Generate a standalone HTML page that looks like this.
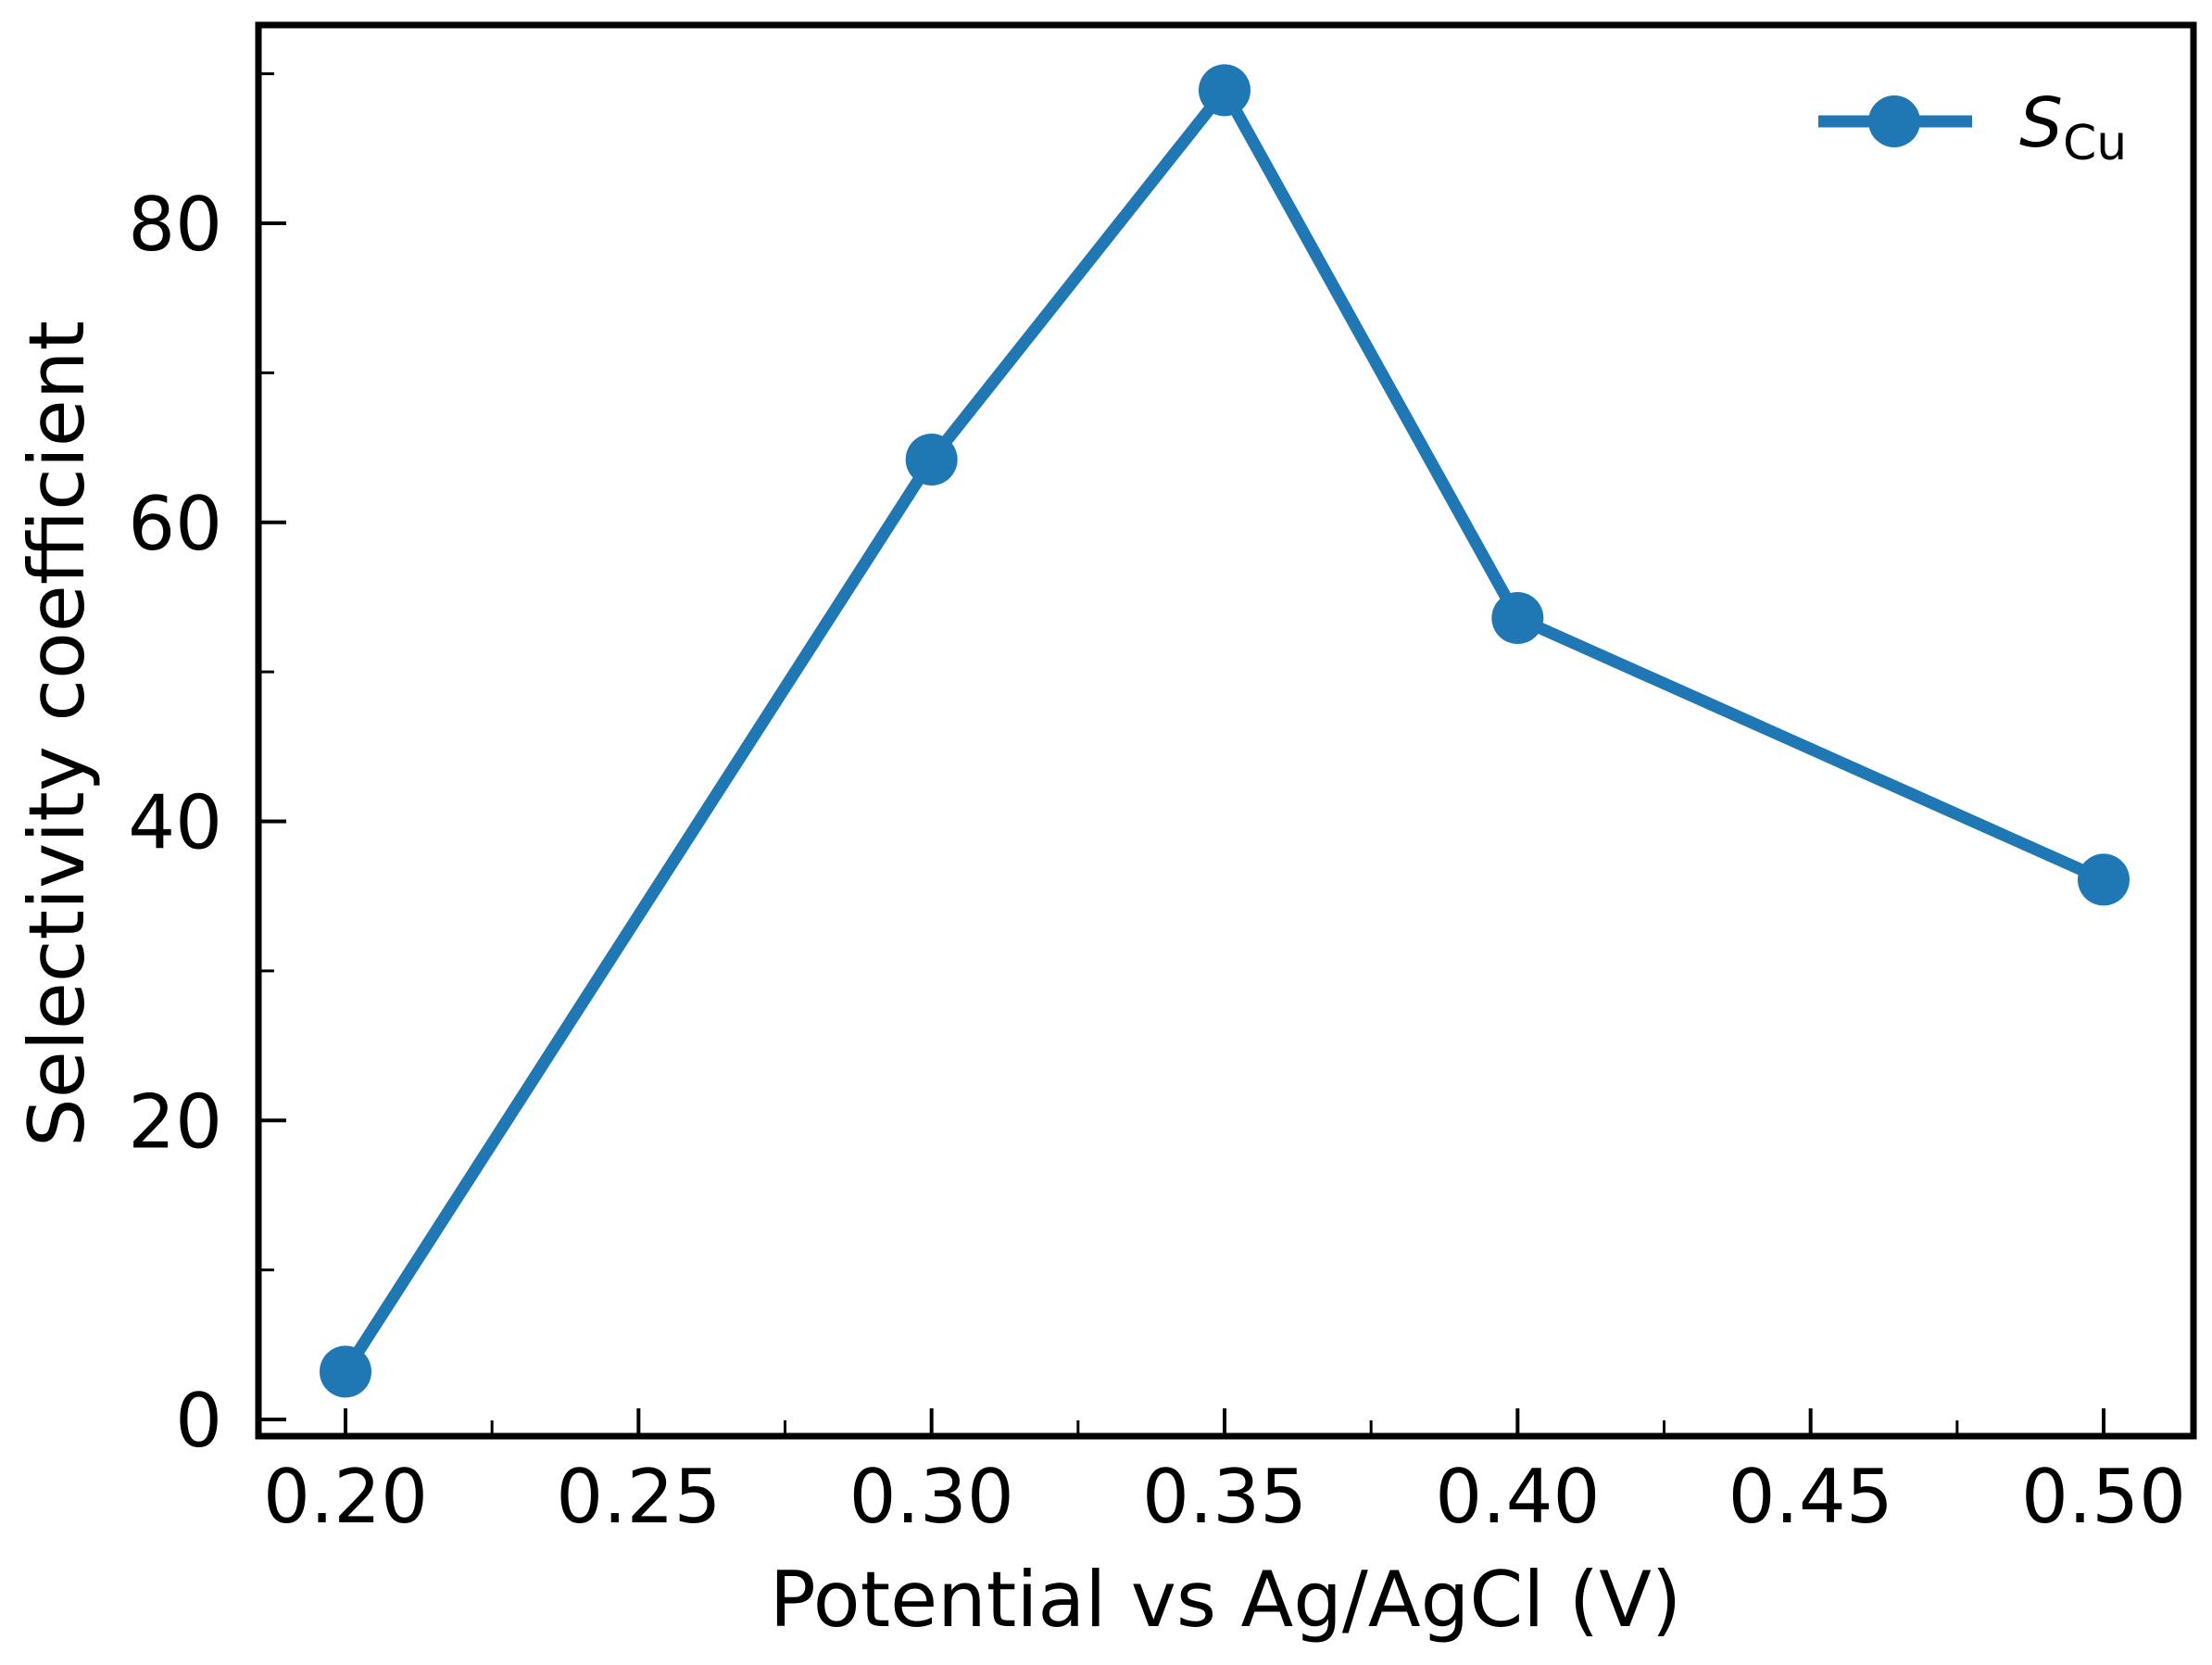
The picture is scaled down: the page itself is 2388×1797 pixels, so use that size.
<!DOCTYPE html>
<html><head><meta charset="utf-8"><style>
html,body{margin:0;padding:0;background:#fff;}
svg{display:block;font-family:"DejaVu Sans","Liberation Sans",sans-serif;}
</style></head><body>
<svg id="chart" width="2388" height="1797" viewBox="0 0 2388 1797" xmlns="http://www.w3.org/2000/svg">
<rect x="0" y="0" width="2388" height="1797" fill="#fff"/>
<g id="ticks"></g>
<g id="series"></g>
<rect x="279" y="27" width="2089" height="1523" fill="none" stroke="#000" stroke-width="7"/>
<text x="1323" y="1755" font-size="83" text-anchor="middle">Potential vs Ag/AgCl (V)</text>
<text transform="translate(90,792) rotate(-90)" font-size="83" text-anchor="middle">Selectivity coefficient</text>
<g>
<line x1="1963" y1="131" x2="2129" y2="131" stroke="#1f77b4" stroke-width="13"/>
<circle cx="2045" cy="131" r="28" fill="#1f77b4"/>
<text x="2180" y="158" font-size="74" font-style="italic">S<tspan font-size="52" font-style="normal" dy="14">Cu</tspan></text>
</g>
</svg>
<script>
const xValues = [0.20, 0.30, 0.35, 0.40, 0.50];
const yValues = [3.2, 64.2, 88.9, 53.6, 36.1];
const xTicks = [0.20, 0.25, 0.30, 0.35, 0.40, 0.45, 0.50];
const xTickLabels = ["0.20", "0.25", "0.30", "0.35", "0.40", "0.45", "0.50"];
const yTicks = [0, 20, 40, 60, 80];
const yTickLabels = ["0", "20", "40", "60", "80"];

const NS = "http://www.w3.org/2000/svg";
function xScale(v){ return 373 + (v - 0.20) / 0.30 * (2271 - 373); }
function yScale(v){ return 1532 - v * (1532 - 241) / 80; }
function mk(tag, attrs, parent){ const e = document.createElementNS(NS, tag); for (const k in attrs) e.setAttribute(k, attrs[k]); parent.appendChild(e); return e; }

const tg = document.getElementById('ticks');
const bottom = 1550, left = 279;
xTicks.forEach((t, i) => {
  const x = xScale(t);
  const l = mk('line', {x1: x, x2: x, y1: bottom, y2: bottom - 30, stroke: '#000', 'stroke-width': 4}, tg);
  
  
  const tx = mk('text', {x: x, y: 1643, 'font-size': 80, 'text-anchor': 'middle'}, tg);
  tx.textContent = xTickLabels[i];
  
  
  if (i < xTicks.length - 1) {
    const xm = xScale(t + 0.025);
    const m = mk('line', {x1: xm, x2: xm, y1: bottom, y2: bottom - 17, stroke: '#000', 'stroke-width': 3}, tg);
    
    
  }
});
yTicks.forEach((t, i) => {
  const y = yScale(t);
  const l = mk('line', {x1: left, x2: left + 30, y1: y, y2: y, stroke: '#000', 'stroke-width': 4}, tg);
  
  
  const tx = mk('text', {x: 240, y: y + 29, 'font-size': 80, 'text-anchor': 'end'}, tg);
  tx.textContent = yTickLabels[i];
  
  
  const ym = yScale(t + 10);
  const m = mk('line', {x1: left, x2: left + 17, y1: ym, y2: ym, stroke: '#000', 'stroke-width': 3}, tg);
  
  
});

const sg = document.getElementById('series');
const pts = xValues.map((x, i) => xScale(x) + ',' + yScale(yValues[i])).join(' ');
const pl = mk('polyline', {points: pts, fill: 'none', stroke: '#1f77b4', 'stroke-width': 13, 'stroke-linejoin': 'round'}, sg);


xValues.forEach((x, i) => {
  const c = mk('circle', {cx: xScale(x), cy: yScale(yValues[i]), r: 28, fill: '#1f77b4'}, sg);
  
  
});
</script>
</body></html>
